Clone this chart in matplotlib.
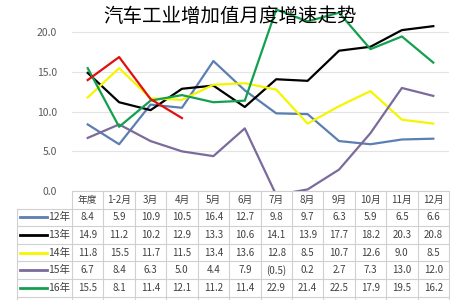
import numpy as np
import matplotlib
matplotlib.use('Agg')
import matplotlib.pyplot as plt
from matplotlib.lines import Line2D

plt.rcParams['font.family'] = ['Noto Sans CJK SC', 'DejaVu Sans']

#categories and series values
months = ['年度', '1-2月', '3月', '4月', '5月', '6月', '7月', '8月', '9月', '10月', '11月', '12月']
years = ['12年', '13年', '14年', '15年', '16年', '17年']
v12 = [8.4, 5.9, 10.9, 10.5, 16.4, 12.7, 9.8, 9.7, 6.3, 5.9, 6.5, 6.6]
v13 = [14.9, 11.2, 10.2, 12.9, 13.3, 10.6, 14.1, 13.9, 17.7, 18.2, 20.3, 20.8]
v14 = [11.8, 15.5, 11.7, 11.5, 13.4, 13.6, 12.8, 8.5, 10.7, 12.6, 9.0, 8.5]
v15 = [6.7, 8.4, 6.3, 5.0, 4.4, 7.9, -0.5, 0.2, 2.7, 7.3, 13.0, 12.0]
v16 = [15.5, 8.1, 11.4, 12.1, 11.2, 11.4, 22.9, 21.4, 22.5, 17.9, 19.5, 16.2]
v17 = [14.0, 16.9, 11.6, 9.2]
series = [v12, v13, v14, v15, v16, v17]
colors = ['#5a7fb0', '#000000', '#f5f500', '#7b6a9c', '#13a04e', '#e01010']

W, H = 450, 300
fig = plt.figure(figsize=(4.5, 3), dpi=100)
fig.patch.set_facecolor('white')

left_px, right_px = 72, 449
ax_bottom_px = 191
ax = fig.add_axes([left_px / W, 1 - ax_bottom_px / H, (right_px - left_px) / W, ax_bottom_px / H])
x = np.arange(len(months))
for vals, c in zip(series, colors):
    ax.plot(x[:len(vals)], vals, color=c, lw=1.6)
ax.set_xlim(-0.5, len(months) - 0.5)
ax.set_ylim(0, 24.1)
ax.set_yticks([0, 5, 10, 15, 20])
ax.set_yticklabels(['%.1f' % t for t in [0, 5, 10, 15, 20]], color='#595959', fontsize=7.5)
ax.tick_params(axis='y', length=0, pad=11)
ax.set_xticks([])
ax.grid(axis='y', color='#e3e3e3', lw=0.8)
ax.set_axisbelow(True)
for s in ax.spines.values():
    s.set_visible(False)
fig.text(230 / W, 1 - 16 / H, '汽车工业增加值月度增速走势', fontsize=14, ha='center', va='center')

#data table under the plot
row_h = 17.6
tax = fig.add_axes([left_px / W, 0, (right_px - left_px) / W, (H - ax_bottom_px) / H])
tax.set_xlim(-0.5, len(months) - 0.5)
tax.set_ylim((H - ax_bottom_px) / row_h, 0)
tax.axis('off')
col_w = (right_px - left_px) / len(months)
lab_left = -0.5 - (left_px - 17) / col_w
gc = '#d0d0d0'
nrows = len(years)
#horizontal lines
tax.plot([-0.5, len(months) - 0.5], [0, 0], color=gc, lw=0.8, clip_on=False)
for r in range(1, nrows + 1):
    tax.plot([lab_left, len(months) - 0.5], [r, r], color=gc, lw=0.8, clip_on=False)
#vertical lines
tax.plot([lab_left, lab_left], [1, nrows + 1], color=gc, lw=0.8, clip_on=False)
for k in range(len(months) + 1):
    tax.plot([k - 0.5, k - 0.5], [0, nrows + 1], color=gc, lw=0.8, clip_on=False)
tc = '#404040'
for k, m in enumerate(months):
    tax.text(k, 0.5, m, ha='center', va='center', fontsize=7, color=tc)
for r, (yr, vals, c) in enumerate(zip(years[:5], series[:5], colors[:5])):
    yc = r + 1.5
    tax.add_line(Line2D([lab_left + 0.1, lab_left + 0.95], [yc, yc], color=c, lw=2, clip_on=False))
    tax.text(-0.55, yc, yr, ha='right', va='center', fontsize=7.5, color=tc)
    for k, v in enumerate(vals):
        s = '(%.1f)' % abs(v) if v < 0 else '%.1f' % v
        tax.text(k, yc, s, ha='center', va='center', fontsize=7, color=tc)

fig.savefig('out.png', dpi=100)
